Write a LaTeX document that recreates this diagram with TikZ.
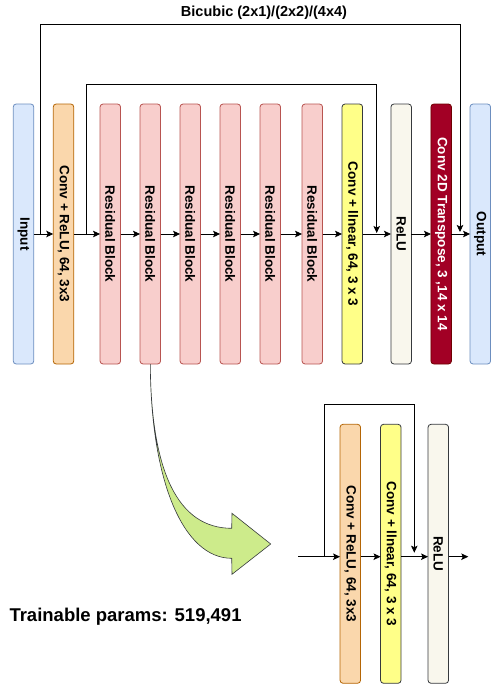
\documentclass[tikz,border=0pt]{standalone}
\usepackage{fontspec}
\setmainfont{Liberation Sans}
\usetikzlibrary{arrows.meta,positioning}

\definecolor{ioFill}{HTML}{DAE8FC}
\definecolor{ioDraw}{HTML}{6C8EBF}
\definecolor{crFill}{HTML}{FAD7AC}
\definecolor{crDraw}{HTML}{B46504}
\definecolor{rbFill}{HTML}{F8CECC}
\definecolor{rbDraw}{HTML}{B85450}
\definecolor{lnFill}{HTML}{FFFF88}
\definecolor{gyDraw}{HTML}{36393D}
\definecolor{reFill}{HTML}{F9F7ED}
\definecolor{tcFill}{HTML}{A20025}
\definecolor{tcDraw}{HTML}{6F0000}
\definecolor{grFill}{HTML}{CDEB8B}

\begin{document}
\begin{tikzpicture}[x=1pt,y=-1pt,
  blk/.style={draw,line width=0.8pt,rounded corners=3pt,minimum width=20.5pt,
    minimum height=260pt,inner sep=0pt,outer sep=0pt,font=\bfseries\fontsize{13.5}{14}\selectfont},
  inout/.style={blk,fill=ioFill,draw=ioDraw},
  convrelu/.style={blk,fill=crFill,draw=crDraw},
  resblk/.style={blk,fill=rbFill,draw=rbDraw},
  convlin/.style={blk,fill=lnFill,draw=gyDraw},
  relu/.style={blk,fill=reFill,draw=gyDraw},
  tconv/.style={blk,fill=tcFill,draw=tcDraw,text=white},
  arr/.style={line width=0.8pt,-{Stealth[length=7pt,width=6.5pt,inset=1.5pt]}}]
  \useasboundingbox (0,0) rectangle (491,685);

  % 1. Top row of blocks
  \node[inout] (in) at (23.5,234) {\rotatebox{-90}{Input}};
  \node[convrelu, right=19.5pt of in] (conv) {\rotatebox{-90}{Conv + ReLU, 64, 3x3}};
  \node[resblk, right=26.3pt of conv] (rb1) {\rotatebox{-90}{Residual Block}};
  \foreach \i/\j in {1/2,2/3,3/4,4/5}
    \node[resblk, right=19.5pt of rb\i] (rb\j) {\rotatebox{-90}{Residual Block}};
  \node[resblk, right=21.5pt of rb5] (rb6) {\rotatebox{-90}{Residual Block}};
  \node[convlin, right=19.5pt of rb6] (lin) {\rotatebox{-90}{Conv + llnear, 64, 3 x 3}};
  \node[relu, right=28.4pt of lin] (relu) {\rotatebox{-90}{ReLU}};
  \node[tconv, right=19.5pt of relu] (tconv) {\rotatebox{-90}{Conv 2D Transpose, 3 ,14 x 14}};
  \node[inout, right=18.6pt of tconv] (out) {\rotatebox{-90}{Output}};

  % 2. Chain of arrows
  \foreach \a/\b in {in/conv,conv/rb1,rb1/rb2,rb2/rb3,rb3/rb4,rb4/rb5,rb5/rb6,
      rb6/lin,lin/relu,relu/tconv,tconv/out}
    \draw[arr] (\a) -- (\b);

  % 3. Skip connections
  \coordinate (sk1) at (40.3,234);
  \coordinate (up1) at (460,232);
  \draw[arr] (sk1) -- ++(0,-209.7) -| (up1);
  \node[font=\bfseries\fontsize{14.5}{15}\selectfont] (bic) at (264,12.3) {Bicubic (2x1)/(2x2)/(4x4)};

  \coordinate (sk2) at (86.3,234);
  \coordinate (up2) at (376.7,233);
  \draw[arr] (sk2) -- ++(0,-149.7) -| (up2);

  % 4. Zoom into one residual block
  \draw[draw=gyDraw, fill=grFill, line width=0.6pt]
    (rb2.south) .. controls (151,472) and (178,528.3) .. (231.7,528.3)
    -- (232,513.3) -- (270.7,544) -- (232,574.3) -- (231.7,558.3)
    .. controls (183.1,558.3) and (150.7,480.7) .. (rb2.south) -- cycle;

  \node[convrelu, minimum height=259pt] (lconv) at (350.3,553.8) {\rotatebox{-90}{Conv + ReLU, 64, 3x3}};
  \node[convlin, minimum height=259pt, right=20pt of lconv] (llin) {\rotatebox{-90}{Conv + llnear, 64, 3 x 3}};
  \node[relu, minimum height=259pt, right=27pt of llin] (lrelu) {\rotatebox{-90}{ReLU}};

  \coordinate (lin0) at (298.3,556.7);
  \coordinate (lout) at (468.3,556.7);
  \draw[arr] (lin0) -- (lin0 -| lconv.west);
  \draw[arr] (lin0 -| lconv.east) -- (lin0 -| llin.west);
  \draw[arr] (lin0 -| llin.east) -- (lin0 -| lrelu.west);
  \draw[arr] (lin0 -| lrelu.east) -- (lout);

  \coordinate (sk3) at (324,556.7);
  \coordinate (up3) at (414.3,552.7);
  \draw[arr] (sk3) -- ++(0,-152.4) -| (up3);

  % 5. Parameter count
  \node[anchor=west, inner sep=0pt, font=\bfseries\fontsize{18.5}{20}\selectfont] (params)
    at (9.3,616.7) {Trainable params: 519,491};
\end{tikzpicture}
\end{document}
